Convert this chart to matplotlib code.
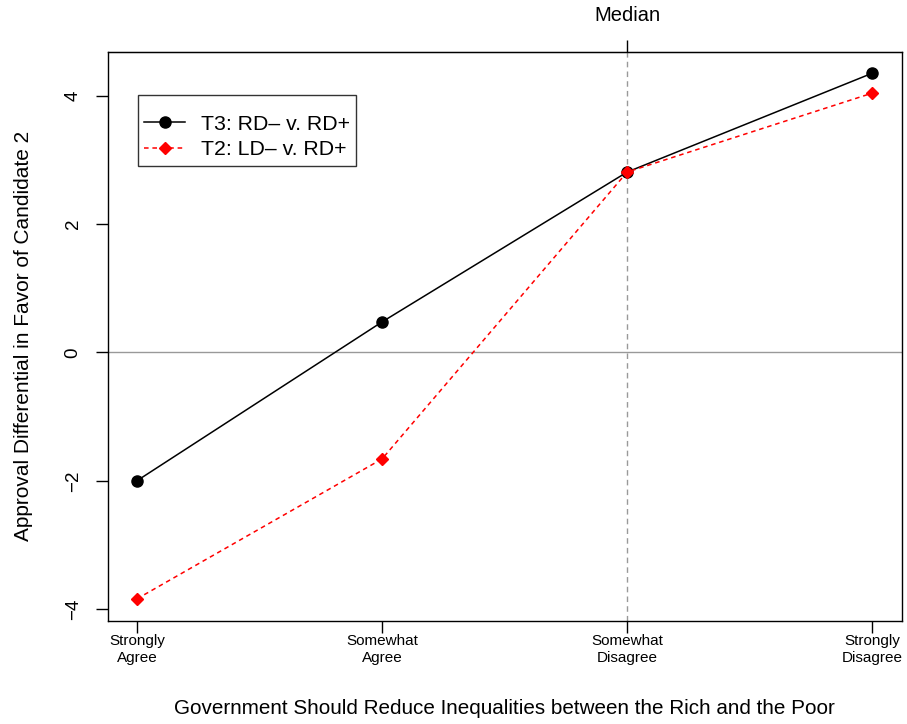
import numpy as np
import matplotlib
matplotlib.use("Agg")
from matplotlib import pyplot as plt

# data
categories = ["Strongly\nAgree", "Somewhat\nAgree", "Somewhat\nDisagree", "Strongly\nDisagree"]
t3_values = [-2.00, 0.475, 2.81, 4.35]
t2_values = [-3.84, -1.66, 2.81, 4.04]
y_ticks = [-4, -2, 0, 2, 4]
median_pos = 3

plt.rcParams['font.family'] = ['Liberation Sans', 'DejaVu Sans']

fig = plt.figure(figsize=(9.07, 7.24), dpi=100)
ax = fig.add_axes([107.5/907, 103.3/724, 794.2/907, 569/724])

x = np.arange(1, len(categories) + 1)
ax.axhline(0, color='#999999', lw=1, zorder=1)
ax.axvline(median_pos, color='#999999', lw=1, ls=(0, (4, 3)), zorder=1)

ax.plot(x, t3_values, color='black', lw=1.1, marker='o', markersize=8,
        label='T3: RD\u2013 v. RD+', zorder=3)
ax.plot(x, t2_values, color='red', lw=1.1, ls=(0, (3, 2.5)), marker='D', markersize=6,
        label='T2: LD\u2013 v. RD+', zorder=4)

ax.set_xlim(0.88, 4.12)
ax.set_ylim(-4.18, 4.685)

ax.set_xticks(x)
ax.set_xticklabels(categories, fontsize=11, linespacing=1.3)
ax.set_yticks(y_ticks)
ax.set_yticklabels([str(v).replace('-', '\u2212') for v in y_ticks], fontsize=13.5, rotation=90, va='center')
ax.tick_params(axis='both', direction='out', length=8.6, width=1, color='black')
ax.tick_params(axis='x', pad=1)
ax.tick_params(axis='y', pad=10)

for s in ax.spines.values():
    s.set_linewidth(1)

# top tick with "Median" label
top = ax.secondary_xaxis('top')
top.set_xticks([median_pos])
top.set_xticklabels(['Median'], fontsize=14.5)
top.tick_params(direction='out', length=8.6, width=1, pad=10.5)

ax.set_xlabel('Government Should Reduce Inequalities between the Rich and the Poor', fontsize=14.9, va='center')
ax.xaxis.set_label_coords(0.5, (620.7 - 709) / 569)
ax.set_ylabel('Approval Differential in Favor of Candidate 2', fontsize=15, va='center')
ax.yaxis.set_label_coords((23.5 - 107.5) / 794.2, 0.5)

# blank small title gives the extra room above the first row, as in the reference
leg = ax.legend(loc='upper left', bbox_to_anchor=(30.5/794.2, 1 - 43.3/569), fontsize=15.3,
                frameon=True, fancybox=False, edgecolor='black', borderpad=0.3,
                handlelength=1.9, labelspacing=0.3, handletextpad=0.75, borderaxespad=0,
                title=' ', title_fontsize=5)
leg.get_frame().set_linewidth(1)

fig.savefig('out.png', dpi=100)
